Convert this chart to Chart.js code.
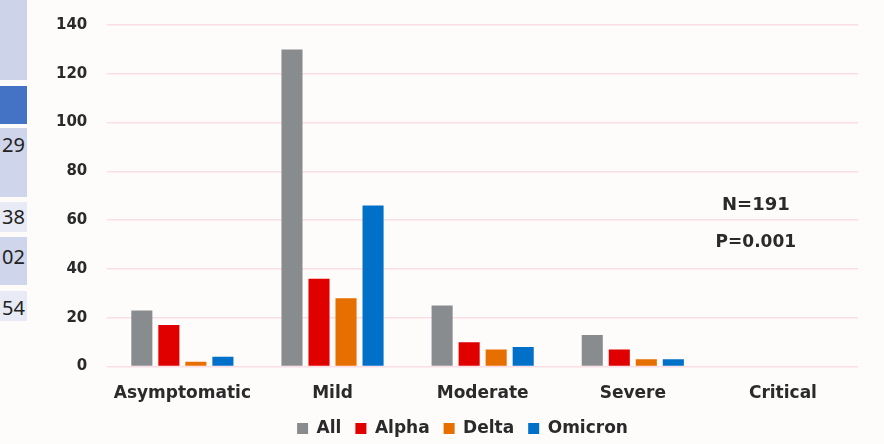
<!DOCTYPE html>
<html>
<head>
<meta charset="utf-8">
<script src="https://cdn.jsdelivr.net/npm/chart.js@4.4.1/dist/chart.umd.min.js"></script>
<style>
  html, body { margin:0; padding:0; background:#fdfcfb; }
  #wrap { position:relative; width:884px; height:444px; overflow:hidden; background:#fdfcfb; }
  #chartBox { position:absolute; left:0; top:0; width:884px; height:444px; }
  .cell { position:absolute; left:0; width:27px; font-family:"Noto Sans", sans-serif; font-size:20px; color:#222; text-align:right; overflow:hidden; white-space:nowrap; }
  .cell span { position:absolute; right:2px; }
</style>
</head>
<body>
<div id="wrap">
  <div class="cell" style="top:0;height:80px;background:#cdd4ea;"></div>
  <div class="cell" style="top:86px;height:38px;background:#4472c4;"></div>
  <div class="cell" style="top:128px;height:69px;background:#cfd5ea;"><span style="top:3px;">29</span></div>
  <div class="cell" style="top:202px;height:30px;background:#e8ebf5;"><span style="top:1px;">38</span></div>
  <div class="cell" style="top:237px;height:48px;background:#cfd5ea;"><span style="top:6px;">02</span></div>
  <div class="cell" style="top:291px;height:30px;background:#e8ebf5;"><span style="top:3px;">54</span></div>
  <div id="chartBox"><canvas id="barChart"></canvas></div>
</div>
<script>
const categories = ['Asymptomatic','Mild','Moderate','Severe','Critical'];
const seriesNames = ['All','Alpha','Delta','Omicron'];
const allCases = [23, 130, 25, 13, 0];
const alphaCases = [17, 36, 10, 7, 0];
const deltaCases = [2, 28, 7, 3, 0];
const omicronCases = [4, 66, 8, 3, 0];
const yTicks = [0, 20, 40, 60, 80, 100, 120, 140];
const notes = ['N=191', 'P=0.001'];

const colors = ['#898c8e', '#e00000', '#e66f00', '#0070c8'];
const font = 'DejaVu Sans';
const ink = '#2a2a2a';

// N / P text to the right of the bars
const notePlugin = {
  id: 'notes',
  afterLayout(chart) {
    // legend in the slide sits a bit right of centre and close under the labels
    chart.legend.left += 27;
    chart.legend.top -= 7;
    chart.legend.bottom -= 7;
  },
  afterDraw(chart) {
    const ctx = chart.ctx;
    const y = chart.scales.y;
    const x = chart.scales.x;
    const cx = (x.getPixelForValue(3) + x.getPixelForValue(4)) / 2 + 48;
    ctx.save();
    ctx.fillStyle = ink;
    ctx.textAlign = 'center';
    ctx.textBaseline = 'middle';
    ctx.font = 'bold 18px ' + font;
    ctx.fillText(notes[0], cx, y.getPixelForValue(66));
    ctx.font = 'bold 17px ' + font;
    ctx.fillText(notes[1], cx, y.getPixelForValue(51));
    ctx.restore();
  }
};

const ctx = document.getElementById('barChart').getContext('2d');
new Chart(ctx, {
  type: 'bar',
  data: {
    labels: categories,
    datasets: [allCases, alphaCases, deltaCases, omicronCases].map((d, i) => ({
      label: seriesNames[i],
      data: d,
      backgroundColor: colors[i],
      categoryPercentage: 0.72,
      barPercentage: 0.78
    }))
  },
  options: {
    responsive: true,
    maintainAspectRatio: false,
    animation: false,
    layout: { padding: { left: 40, right: 26, top: 10, bottom: -10 } },
    plugins: {
      legend: {
        position: 'bottom',
        labels: { boxWidth: 11, boxHeight: 11, padding: 14, color: ink, font: { family: font, size: 17, weight: 'bold' } }
      },
      tooltip: { enabled: false }
    },
    scales: {
      x: {
        grid: { display: false },
        border: { display: false },
        ticks: { color: ink, padding: 9, font: { family: font, size: 17, weight: 'bold' } }
      },
      y: {
        min: 0, max: 140,
        afterBuildTicks: axis => { axis.ticks = yTicks.map(v => ({ value: v })); },
        grid: { color: '#fbdde6', lineWidth: 1.5, drawTicks: true, tickLength: 4, tickColor: 'rgba(0,0,0,0)' },
        border: { display: false },
        ticks: { color: ink, padding: 16, font: { family: font, size: 15, weight: 'bold' } }
      }
    }
  },
  plugins: [notePlugin]
});
</script>
</body>
</html>
